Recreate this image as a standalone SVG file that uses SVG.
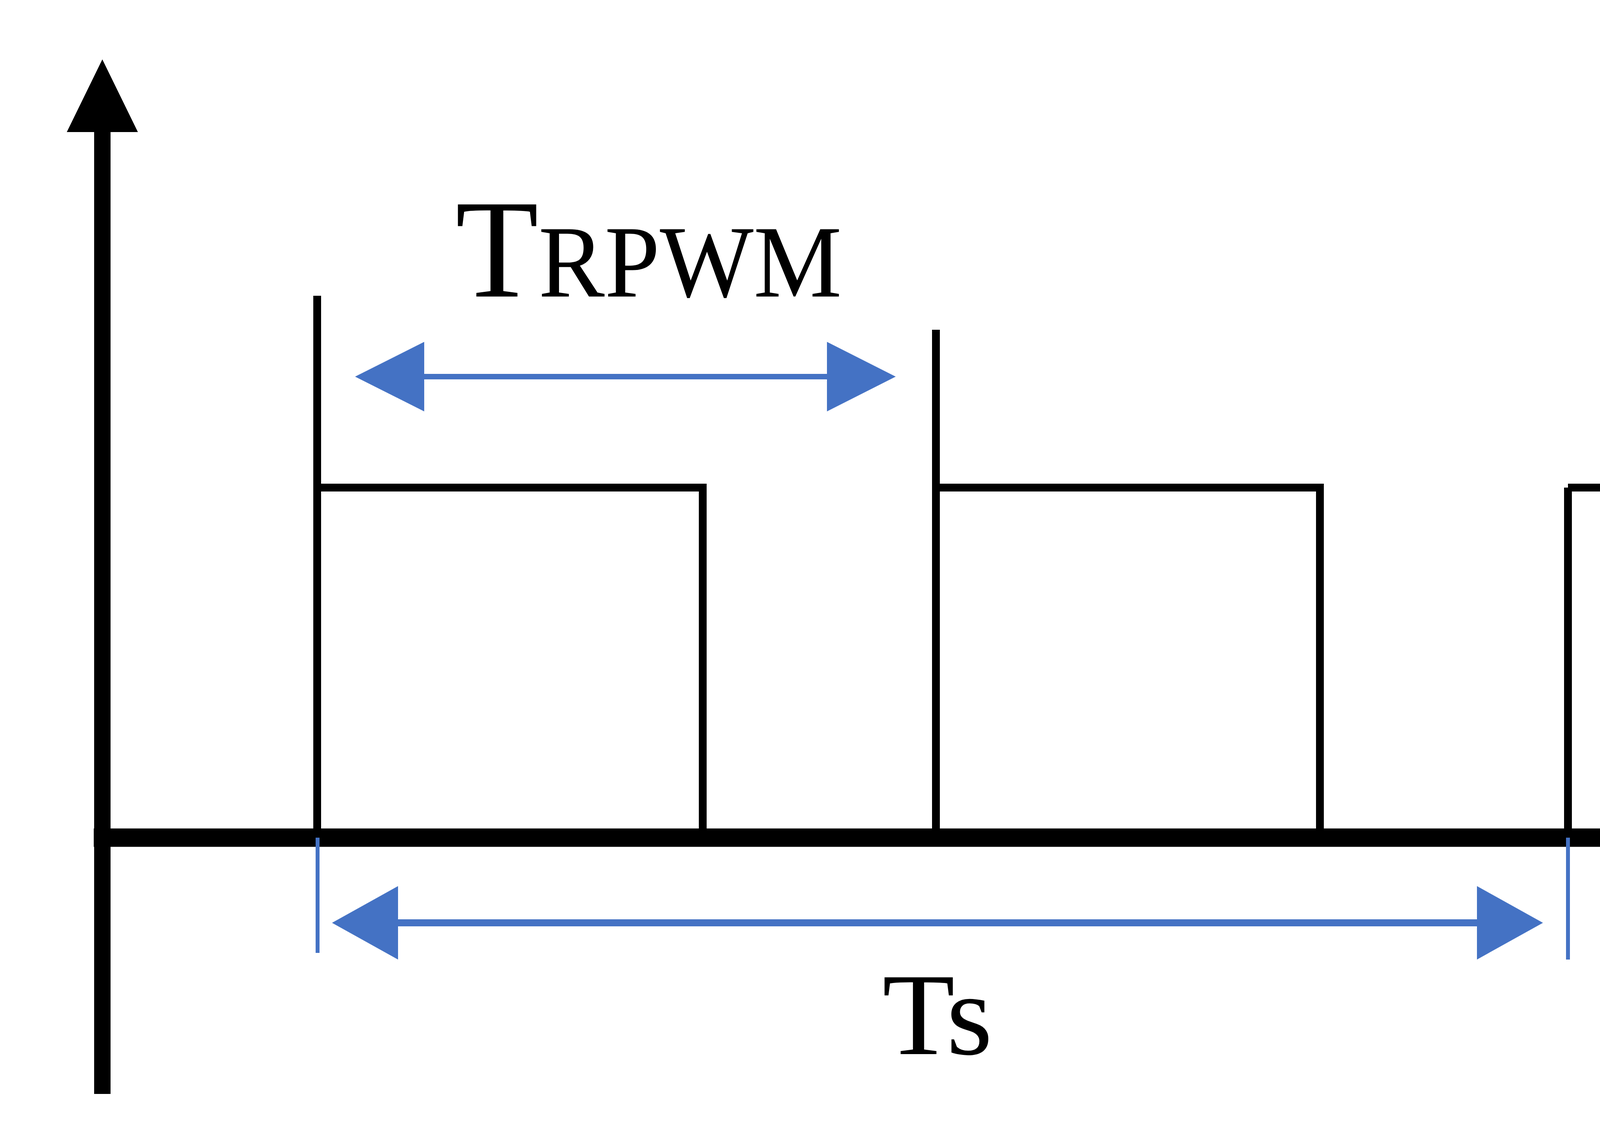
<svg xmlns="http://www.w3.org/2000/svg" width="6591" height="2923" viewBox="0 0 6591 2923">
<style>
.ax{stroke:#000;stroke-width:42;fill:none}
.pl{stroke:#000;stroke-width:20;fill:none}
.bl{stroke:#4472C4;stroke-width:14;fill:none}
.hd{fill:#4472C4}
.tx{font-family:"Liberation Serif",serif;fill:#000}
</style>
<rect width="6591" height="2923" fill="#fff"/>
<g id="axes">
<line class="ax" x1="262" y1="320" x2="262" y2="2800"/>
<polygon points="262,152 171,338 353,338"/>
<line class="ax" x1="240" y1="2144" x2="6000" y2="2144" style="stroke-width:47"/>
<polygon points="6148,2144 5979,2053 5979,2235"/>
<text class="tx" x="6373" y="2247" font-size="300">t</text>
</g>
<g id="pulses">
<path class="pl" d="M812,757 V2144 M812,1248 H1799 V2144"/>
<path class="pl" d="M2396,844 V2144 M2396,1248 H3379 V2144"/>
<path class="pl" d="M4014,1248 V2144 M4014,1248 H5002 V2144"/>
</g>
<g id="connectors">
<line class="bl" x1="1060" y1="964" x2="2140" y2="964"/>
<polygon class="hd" points="909,964 1086,875 1086,1053"/>
<polygon class="hd" points="2293,964 2117,875 2117,1053"/>
<line class="bl" x1="813" y1="2144" x2="813" y2="2439" style="stroke-width:10"/>
<line class="bl" x1="4014" y1="2144" x2="4014" y2="2456" style="stroke-width:10"/>
<line class="bl" x1="1000" y1="2362" x2="3800" y2="2362" style="stroke-width:18"/>
<polygon class="hd" points="850,2362 1019,2268 1019,2456"/>
<polygon class="hd" points="3950,2362 3781,2268 3781,2456"/>
</g>
<g id="labels">
<text class="tx" x="1166" y="759" textLength="989" lengthAdjust="spacingAndGlyphs"><tspan font-size="360">T</tspan><tspan font-size="263">RPWM</tspan></text>
<text class="tx" x="2259" y="2698" font-size="300" textLength="282" lengthAdjust="spacingAndGlyphs">Ts</text>
</g>
</svg>
